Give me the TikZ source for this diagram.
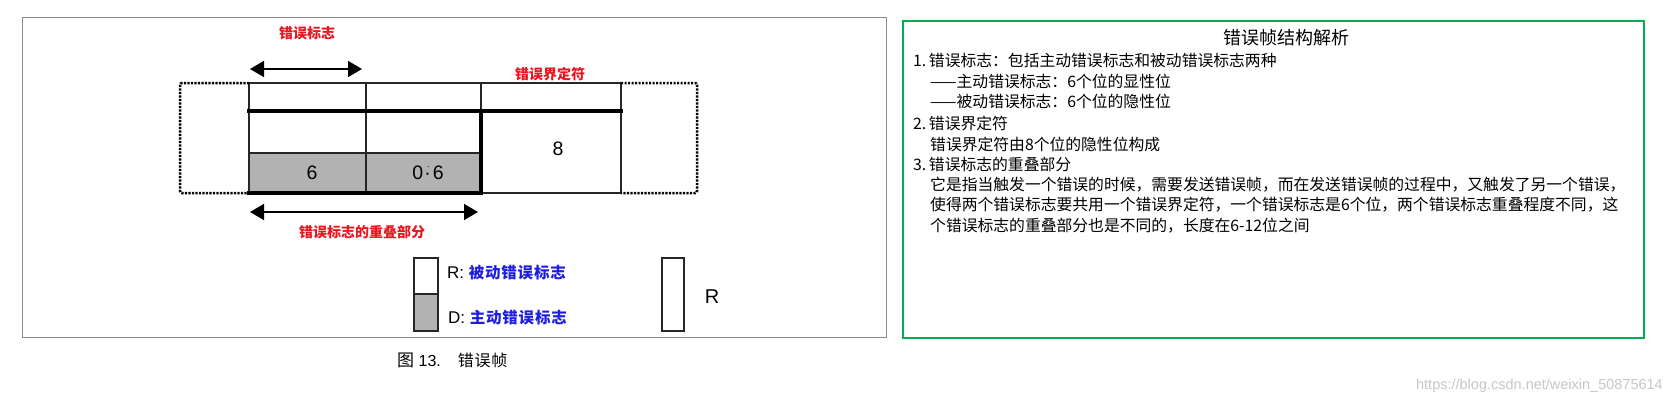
\documentclass[tikz,border=0pt]{standalone}
\usepackage{fontspec}
\setmainfont{Liberation Sans}
\newfontfamily\cjk{Noto Sans CJK SC}
\newfontfamily\cjksp[LetterSpace=5]{Noto Sans CJK SC}
\usetikzlibrary{arrows.meta}
\definecolor{redlbl}{RGB}{232,22,30}
\definecolor{bluelbl}{RGB}{30,30,225}
\definecolor{greenframe}{RGB}{0,176,80}
\definecolor{cellgray}{RGB}{178,178,178}
\definecolor{framegray}{RGB}{140,140,140}
\tikzset{
  cellline/.style={line width=1.3pt, black!85},
  thickline/.style={line width=4pt, black},
  dotbox/.style={line width=2.5pt, black, dash pattern=on 2.2pt off 1.3pt, rounded corners=2pt},
  dimarrow/.style={line width=1.6pt, black, {Triangle[length=14pt,width=16pt]}-{Triangle[length=14pt,width=16pt]}},
  redtext/.style={inner sep=0pt, text=redlbl, font=\cjk\bfseries\fontsize{14}{16}\selectfont},
  num/.style={inner sep=0pt, font=\fontsize{19.5}{21}\selectfont},
  legtext/.style={inner sep=0pt, anchor=west, font=\fontsize{17}{19}\selectfont},
  para/.style={inner sep=0pt, anchor=west, font=\cjk\fontsize{15.8}{18}\selectfont},
}
\begin{document}
\begin{tikzpicture}[x=1pt,y=-1pt]
\useasboundingbox (0,0) rectangle (1672,404);
\fill[white] (0,0) rectangle (1672,404);

% left frame
\draw[framegray, line width=1pt] (22,18) rectangle (886,337);

% gray cells
\fill[cellgray] (249,153) rectangle (481,193);
% thin cell lines
\draw[cellline] (249,83) -- (621,83);
\draw[cellline] (249,83) -- (249,193);
\draw[cellline] (366,83) -- (366,193);
\draw[cellline] (481,83) -- (481,111);
\draw[cellline] (621,83) -- (621,193);
\draw[cellline] (249,153) -- (481,153);
\draw[cellline] (481,193) -- (621,193);
% thick lines
\draw[thickline] (247,111) -- (623,111);
\draw[thickline] (481,111) -- (481,193) -- (247,193);
% dotted boxes
\draw[dotbox] (249,83) -- (180,83) -- (180,193) -- (249,193);
\draw[dotbox] (621,83) -- (697,83) -- (697,193) -- (621,193);

% arrows
\coordinate (fa) at (250,69);
\coordinate (fb) at (362,69);
\draw[dimarrow] (fa) -- (fb);
\coordinate (oa) at (250,212);
\coordinate (ob) at (478,212);
\draw[dimarrow] (oa) -- (ob);

% labels
\node[redtext] (lflag) at (307,33) {错误标志};
\node[redtext] (ldelim) at (550,74) {错误界定符};
\node[redtext] (lover) at (362,232) {错误标志的重叠部分};
\node[num] (n8) at (558,149) {8};
\node[num] (n6) at (312,173) {6};
\node[num] (n06) at (428,173) {0\kern1pt\raisebox{0pt}{\textperiodcentered}\kern-3.5pt\raisebox{5pt}{\small\`{}}\kern3pt 6};

% legend
\draw[cellline, fill=white] (414,258) rectangle (438,294);
\draw[cellline, fill=cellgray] (414,294) rectangle (438,331);
\node[legtext] (legR) at (447,273) {R: \textcolor{bluelbl}{\cjksp\bfseries\fontsize{15.5}{17}\selectfont 被动错误标志}};
\node[legtext] (legD) at (448,318) {D: \textcolor{bluelbl}{\cjksp\bfseries\fontsize{15.5}{17}\selectfont 主动错误标志}};
\draw[cellline] (662,258) rectangle (684,331);
\node[inner sep=0pt, font=\fontsize{20}{22}\selectfont] (bigR) at (712,297) {R};

% caption
\node[inner sep=0pt, anchor=west, font=\fontsize{16}{18}\selectfont] (cap) at (397,360) {{\cjk\fontsize{17}{19}\selectfont 图} 13.\hspace{17pt}{\cjk\fontsize{16}{18}\selectfont\addfontfeature{LetterSpace=5}错误帧}};

% right panel
\draw[greenframe, line width=1.2pt] (903,21) rectangle (1644,338);
\node[inner sep=0pt, font=\cjk\fontsize{18}{20}\selectfont] (title) at (1286,38) {错误帧结构解析};
\node[para] (p1) at (913,60) {1.\,错误标志：包括主动错误标志和被动错误标志两种};
\node[para] (p2) at (930,81) {——主动错误标志：6个位的显性位};
\node[para] (p3) at (930,101) {——被动错误标志：6个位的隐性位};
\node[para] (p4) at (913,123) {2.\,错误界定符};
\node[para] (p5) at (930,144) {错误界定符由8个位的隐性位构成};
\node[para] (p6) at (913,164) {3.\,错误标志的重叠部分};
\node[para] (p7) at (930,185) {它是指当触发一个错误的时候，需要发送错误帧，而在发送错误帧的过程中，又触发了另一个错误，};
\node[para] (p8) at (930,205) {使得两个错误标志要共用一个错误界定符，一个错误标志是6个位，两个错误标志重叠程度不同，这};
\node[para] (p9) at (930,226) {个错误标志的重叠部分也是不同的，长度在6-12位之间};

% url watermark
\node[inner sep=0pt, anchor=east, text=black!22, font=\fontsize{14.5}{16}\selectfont] (url) at (1663,386) {https://blog.csdn.net/weixin\_50875614};
\end{tikzpicture}
\end{document}
